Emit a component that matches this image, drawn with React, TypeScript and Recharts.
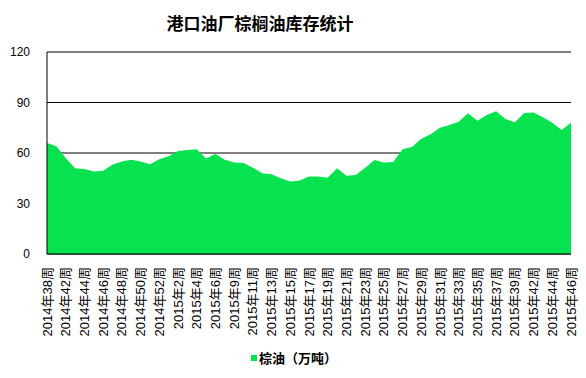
import React from "react";
import { AreaChart, Area, XAxis, YAxis, CartesianGrid } from "recharts";

const categories = [
  "2014年38周", "2014年40周", "2014年42周", "2014年43周", "2014年44周", "2014年45周",
  "2014年46周", "2014年47周", "2014年48周", "2014年49周", "2014年50周", "2014年51周",
  "2014年52周", "2015年1周", "2015年2周", "2015年3周", "2015年4周", "2015年5周",
  "2015年6周", "2015年8周", "2015年9周", "2015年10周", "2015年11周", "2015年12周",
  "2015年13周", "2015年14周", "2015年15周", "2015年16周", "2015年17周", "2015年18周",
  "2015年19周", "2015年20周", "2015年21周", "2015年22周", "2015年23周", "2015年24周",
  "2015年25周", "2015年26周", "2015年27周", "2015年28周", "2015年29周", "2015年30周",
  "2015年31周", "2015年32周", "2015年33周", "2015年34周", "2015年35周", "2015年36周",
  "2015年37周", "2015年38周", "2015年39周", "2015年40周", "2015年42周", "2015年43周",
  "2015年44周", "2015年45周", "2015年46周",
];

const palmOil = [
  66, 64, 57, 51, 50.5, 49, 49.5, 53, 55, 56, 55, 53.3,
  56.3, 58, 61.2, 61.8, 62.2, 56.8, 59.4, 56, 54.4, 54, 51.3, 48,
  47.4, 45, 43, 43.6, 46, 46, 45.3, 51, 46.5, 47, 51.3, 55.9,
  54.3, 54.7, 62.2, 63.6, 68.5, 71.1, 75, 76.6, 78.6, 83.6, 79.2, 82.6,
  84.8, 80.2, 78.2, 83.8, 84, 81.2, 78, 73.7, 78,
];

const yTicks = [0, 30, 60, 90, 120];

const seriesName = "棕油（万吨）";
const title = "港口油厂棕榈油库存统计";

const data = categories.map((week, i) => ({ week, value: palmOil[i] }));

const GREEN = "#07E24F";

const YTick = (props: any) => {
  const { x, y, payload } = props;
  return (
    <text
      x={x - 9}
      y={y}
      textAnchor="end"
      dominantBaseline="central"
      fontFamily="'Liberation Sans', Arial, sans-serif"
      fontSize={12}
      fill="#000"
    >
      {payload.value}
    </text>
  );
};

const XTick = (props: any) => {
  const { x, y, payload } = props;
  const ty = y + 5;
  return (
    <text
      x={x}
      y={ty}
      dy="0.35em"
      textAnchor="end"
      transform={`rotate(-90, ${x}, ${ty})`}
      fontFamily="'Liberation Sans', 'Noto Sans CJK SC', sans-serif"
      fontSize={13}
      fill="#000"
    >
      {payload.value}
    </text>
  );
};

export default function App() {
  return (
    <div
      style={{
        position: "absolute",
        left: 0,
        top: 0,
        width: 586,
        height: 378,
        background: "#fff",
        overflow: "hidden",
      }}
    >
      <div
        style={{
          position: "absolute",
          left: 60,
          width: 400,
          top: 11,
          textAlign: "center",
          whiteSpace: "nowrap",
          fontFamily: "'Noto Sans CJK SC', sans-serif",
          fontWeight: 700,
          fontSize: 17,
          lineHeight: "24px",
          color: "#000",
        }}
      >
        {title}
      </div>
      <AreaChart
        width={586}
        height={378}
        data={data}
        margin={{ top: 52, right: 15, left: 0, bottom: 0 }}
      >
        <CartesianGrid vertical={false} stroke="#000" strokeWidth={1} />
        <XAxis
          dataKey="week"
          interval={1}
          height={124}
          axisLine={{ stroke: "#000" }}
          tickLine={false}
          tick={<XTick />}
        />
        <YAxis
          width={47}
          domain={[0, 120]}
          ticks={yTicks}
          axisLine={{ stroke: "#000" }}
          tickLine={false}
          tick={<YTick />}
        />
        <Area
          type="linear"
          dataKey="value"
          name={seriesName}
          stroke="none"
          fill={GREEN}
          fillOpacity={1}
          isAnimationActive={false}
        />
      </AreaChart>
      <div
        style={{
          position: "absolute",
          left: 251,
          top: 349,
          display: "flex",
          alignItems: "center",
          fontFamily: "'Noto Sans CJK SC', sans-serif",
          fontWeight: 700,
          fontSize: 13,
          lineHeight: "18px",
          color: "#000",
        }}
      >
        <span
          style={{
            display: "inline-block",
            width: 6,
            height: 6,
            background: GREEN,
            marginRight: 2,
          }}
        />
        <span>{seriesName}</span>
      </div>
    </div>
  );
}
